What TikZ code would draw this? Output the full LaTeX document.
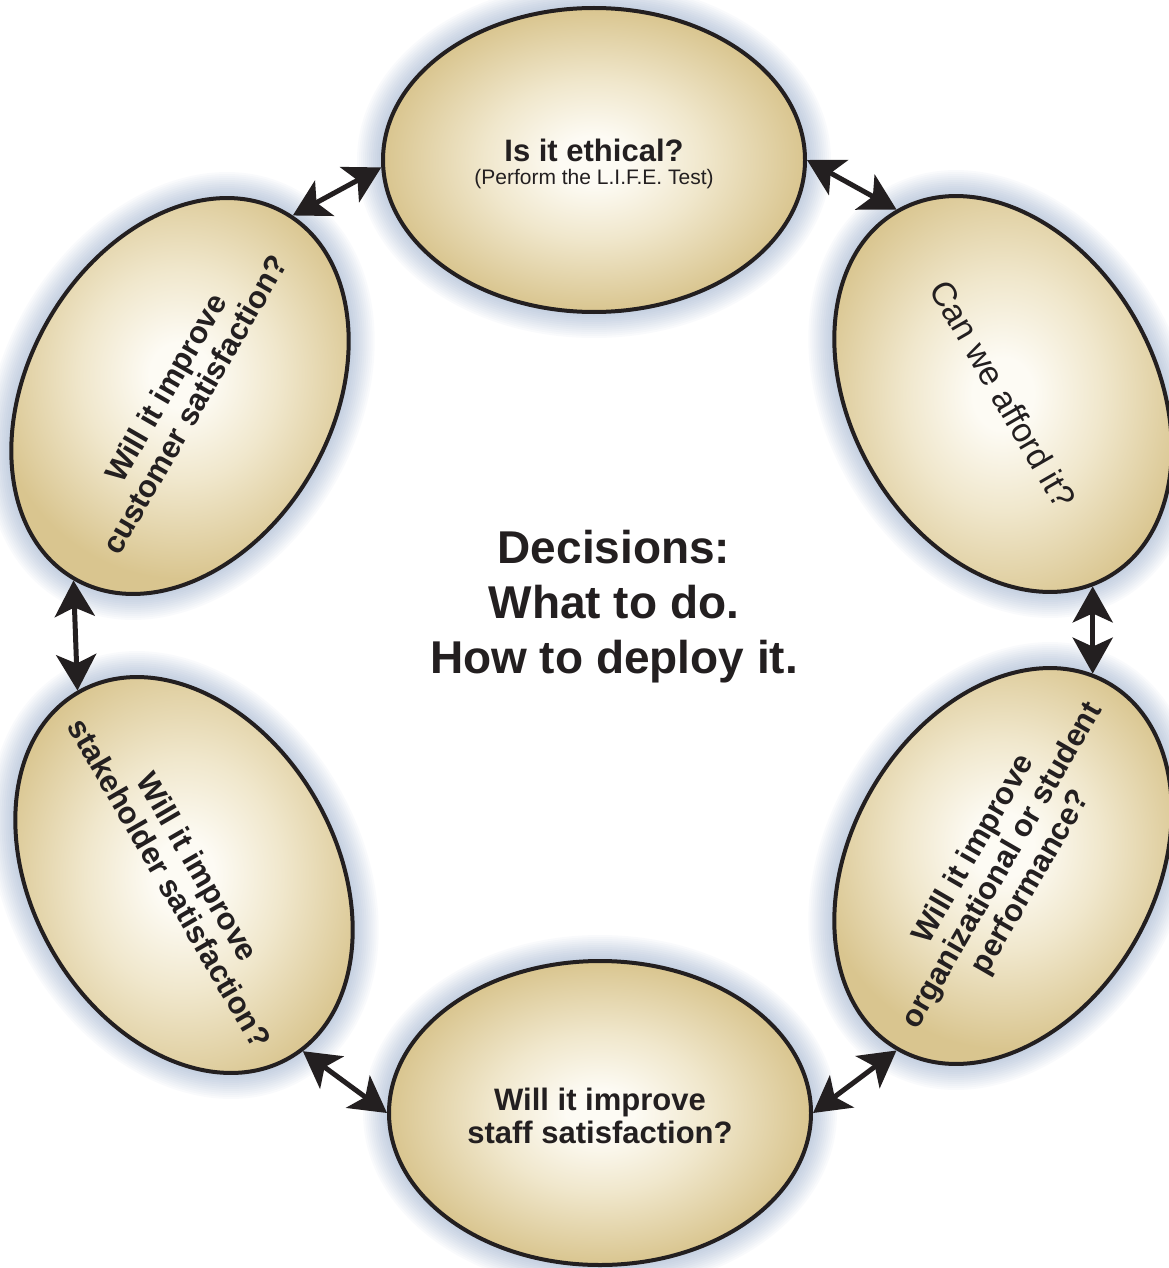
\documentclass[tikz,border=0pt]{standalone}
\usepackage{fontspec}
\setmainfont{Liberation Sans}
\usetikzlibrary{shapes.geometric,arrows.meta}
\definecolor{ink}{RGB}{35,31,32}
\definecolor{eggin}{RGB}{253,251,244}
\definecolor{eggmid}{RGB}{240,231,204}
\definecolor{eggout}{RGB}{217,197,143}
\definecolor{glowc}{RGB}{95,125,172}
\pgfdeclareradialshading{eggshade}{\pgfpoint{0bp}{0bp}}{color(0bp)=(eggin); color(4bp)=(eggin); color(13bp)=(eggmid); color(25bp)=(eggout); color(50bp)=(eggout)}
\begin{document}
\begin{tikzpicture}[x=1pt,y=-1pt,
  egg/.style={ellipse, draw=ink, line width=4pt, shade, shading=eggshade,
    minimum width=422pt, minimum height=304pt, inner sep=0pt},
  lbl/.style={text=ink, align=center, font=\fontsize{31}{33}\selectfont\bfseries},
  link/.style={draw=ink, line width=5pt,
    {Stealth[length=36pt,width=40pt,inset=9pt]}-{Stealth[length=36pt,width=40pt,inset=9pt]}},
]
\useasboundingbox (0,0) rectangle (1169,1268);
\coordinate (cT)  at (594,160);
\coordinate (cTR) at (1003,394);
\coordinate (cBR) at (1003,866);
\coordinate (cB)  at (600,1113);
\coordinate (cBL) at (184,875);
\coordinate (cTL) at (180,396);
% glow
\foreach \c/\r in {cT/0, cTR/-60, cBR/60, cB/0, cBL/-60, cTL/60}{
  \foreach \w in {4,8,...,52}{
    \draw[glowc, line width=\w pt, draw opacity=0.035, rotate around={\r:(\c)}]
      (\c) ellipse [x radius=211, y radius=152];
  }
}
% ellipses
\node[egg] (T) at (cT) {};
\node[egg, rotate=-60] (TR) at (cTR) {};
\node[egg, rotate=60] (BR) at (cBR) {};
\node[egg] (B) at (cB) {};
\node[egg, rotate=-60] (BL) at (cBL) {};
\node[egg, rotate=60] (TL) at (cTL) {};
% texts
\node[text=ink, align=center, font=\fontsize{21}{23}\selectfont] (tT) at (594,164)
  {{\fontsize{31}{33}\selectfont\bfseries Is it ethical?}\\(Perform the L.I.F.E. Test)};
\node[text=ink, font=\fontsize{34}{36}\selectfont, rotate=-60] (tTR) at (cTR) {Can we afford it?};
\node[lbl, rotate=60] (tBR) at (cBR) {Will it improve\\organizational or student\\performance?};
\node[lbl] (tB) at (600,1116) {Will it improve\\staff satisfaction?};
\node[lbl, rotate=-60] (tBL) at (cBL) {Will it improve\\stakeholder satisfaction?};
\node[lbl, rotate=60] (tTL) at (cTL) {Will it improve\\customer satisfaction?};
\node[lbl, font=\fontsize{46}{55}\selectfont\bfseries] (ctr) at (614,607)
  {Decisions:\\What to do.\\How to deploy it.};
% connectors
\draw[link] (T.182) -- (TL.-2);
\draw[link] (T.east) -- (TR.west);
\draw[link] (TR.-5) -- (BR.5);
\draw[link] (BR.west) -- (B.east);
\draw[link] (B.west) -- (BL.4);
\draw[link] (BL.west) -- (TL.west);
\end{tikzpicture}
\end{document}
